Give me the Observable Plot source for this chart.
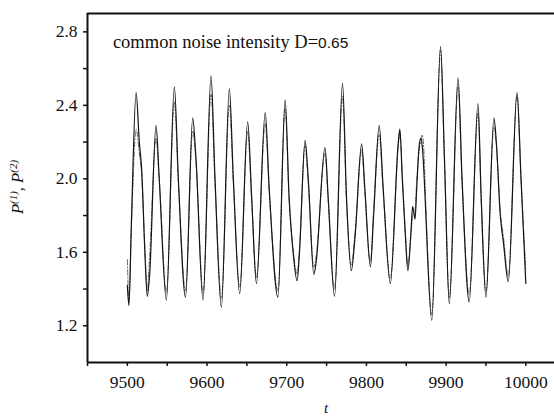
<!DOCTYPE html>
<html>
<head>
<meta charset="utf-8">
<script src="https://cdn.jsdelivr.net/npm/d3@7"></script>
<script src="https://cdn.jsdelivr.net/npm/@observablehq/plot@0.6"></script>
<style>
  html, body { margin: 0; padding: 0; background: #fff; }
  #chart { width: 554px; height: 418px; }
  #chart svg text { font-family: "Liberation Serif", "Times New Roman", serif !important; }
  #chart svg text tspan.sans { font-family: "Liberation Sans", Arial, sans-serif !important; }
</style>
</head>
<body>
<div id="chart"></div>
<script>
// Time samples (shared by both series)
const times = [9500,9502,9505,9511,9515,9518,9522,9525,9528,9536,9540,9549,9559,9564,9573,9582,9586,9595,9605,9610,9618,9628,9633,9641,9651,9656,9662,9673,9678,9689,9698,9703,9708,9713,9716,9723,9727,9734,9737,9748,9752,9760,9770,9775,9781,9786,9794,9798,9805,9809,9816,9821,9830,9840,9842,9845,9849,9852,9856,9858,9861,9863,9866,9868,9870,9872,9874,9882,9893,9898,9904,9915,9920,9929,9940,9944,9950,9960,9963,9968,9972,9978,9989,9994,10000];

// Solid series P(1)
const solidV = [1.42,1.31,1.75,2.47,2.20,2.05,1.60,1.36,1.48,2.29,2.00,1.34,2.50,2.00,1.355,2.33,2.12,1.34,2.56,2.00,1.30,2.49,2.00,1.375,2.31,1.90,1.43,2.36,1.95,1.355,2.43,1.90,1.60,1.445,1.60,2.21,2.00,1.48,1.55,2.17,1.90,1.36,2.52,1.90,1.50,1.70,2.19,1.95,1.52,1.80,2.29,1.95,1.43,2.20,2.27,2.00,1.68,1.50,1.72,1.85,1.78,1.94,2.17,2.22,2.18,2.05,1.86,1.23,2.72,2.10,1.32,2.55,2.00,1.33,2.41,1.90,1.355,2.33,2.20,1.80,1.65,1.44,2.47,2.00,1.43];

// Dash-dot series P(2)
const dashV = [1.56,1.34,1.72,2.27,2.14,2.02,1.62,1.39,1.58,2.22,2.00,1.38,2.42,1.98,1.39,2.26,2.10,1.38,2.46,1.98,1.35,2.40,1.98,1.41,2.26,1.88,1.46,2.30,1.93,1.39,2.38,1.88,1.62,1.48,1.62,2.18,1.98,1.52,1.58,2.14,1.88,1.40,2.45,1.88,1.53,1.72,2.16,1.93,1.55,1.82,2.24,1.93,1.46,2.18,2.25,2.02,1.70,1.53,1.70,1.80,1.82,1.98,2.15,2.20,2.24,2.16,1.92,1.26,2.70,2.08,1.35,2.50,1.98,1.37,2.36,1.88,1.39,2.28,2.18,1.82,1.68,1.47,2.46,2.00,1.50];

// Tick values
const xMajor = [9500, 9600, 9700, 9800, 9900, 10000];
const xMinor = [9450, 9550, 9650, 9750, 9850, 9950];
const yMajor = [1.2, 1.6, 2.0, 2.4, 2.8];
const yMinor = [1.4, 1.8, 2.2, 2.6];

const solid = times.map((t, i) => ({t, v: solidV[i]}));
const dash = times.map((t, i) => ({t, v: dashV[i]}));

const serif = "'Liberation Serif', 'Times New Roman', serif";

const chart = Plot.plot({
  width: 554,
  height: 418,
  marginLeft: 87,
  marginRight: 0,
  marginTop: 13,
  marginBottom: 56,
  style: {fontFamily: serif, fontSize: "17.5px", color: "#111", background: "#fff"},
  x: {domain: [9450, 10036], label: null},
  y: {domain: [1.0, 2.9], label: null},
  marks: [
    Plot.line(dash, {x: "t", y: "v", stroke: "#666", strokeWidth: 1, strokeDasharray: "5,2,1.2,2", curve: "monotone-x"}),
    Plot.line(solid, {x: "t", y: "v", stroke: "#151515", strokeWidth: 1.2, curve: "monotone-x"}),
    Plot.axisX({ticks: xMinor, tickSize: 4, strokeWidth: 1.5, tickFormat: () => "", label: null}),
    Plot.axisX({ticks: xMajor, tickSize: 4, strokeWidth: 1.5, tickPadding: 9, tickFormat: d3.format("d"), label: null, fontSize: 17.5}),
    Plot.axisY({ticks: yMinor, tickSize: 4, strokeWidth: 1.5, tickFormat: () => "", label: null}),
    Plot.axisY({ticks: yMajor, tickSize: 4, strokeWidth: 1.5, tickPadding: 6, tickFormat: d3.format(".1f"), label: null, fontSize: 17.5}),
    Plot.ruleX([9450], {stroke: "#111", strokeWidth: 2}),
    Plot.ruleY([1.0], {stroke: "#111", strokeWidth: 2}),
    Plot.ruleY([2.9], {stroke: "#111", strokeWidth: 2})
  ]
});

document.getElementById("chart").appendChild(chart);

// Annotation and axis titles as real text
const svg = d3.select(chart);
const xs = chart.scale("x"), ys = chart.scale("y");

const ann = svg.append("text")
  .attr("x", xs.apply(9482.5))
  .attr("y", ys.apply(2.745))
  .attr("dy", "0.35em")
  .attr("text-anchor", "start")
  .attr("fill", "#111")
  .style("font-size", "18.5px");
ann.append("tspan").text("common noise intensity D=");
ann.append("tspan").attr("class", "sans").style("font-size", "15.5px").text("0.65");

const yl = svg.append("text")
  .attr("transform", "translate(23,187) rotate(-90)")
  .attr("text-anchor", "middle")
  .attr("fill", "#111")
  .style("font-size", "16.5px");
yl.append("tspan").style("font-style", "italic").text("P");
yl.append("tspan").attr("baseline-shift", "super").style("font-style", "italic").style("font-size", "11px").text("(1)");
yl.append("tspan").text(",");
yl.append("tspan").style("font-style", "italic").text(" P");
yl.append("tspan").attr("baseline-shift", "super").style("font-style", "italic").style("font-size", "11px").text("(2)");

svg.append("text")
  .attr("x", 326)
  .attr("y", 413)
  .attr("text-anchor", "middle")
  .attr("fill", "#111")
  .style("font-style", "italic")
  .style("font-size", "15px")
  .text("t");
</script>
</body>
</html>
